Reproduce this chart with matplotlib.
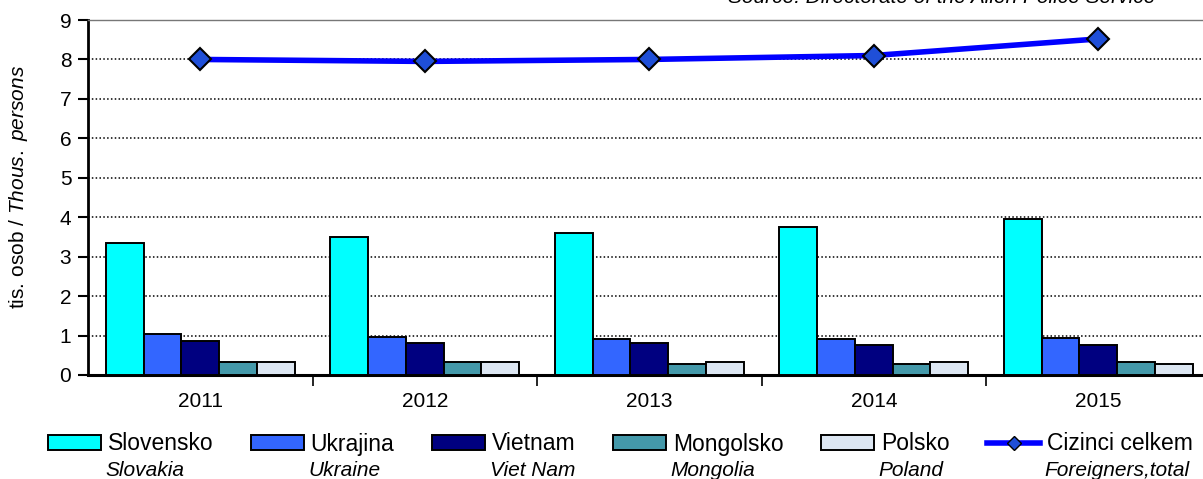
import numpy as np
import matplotlib.pyplot as plt
from matplotlib.lines import Line2D
from matplotlib.patches import Patch

plt.rcParams['font.family'] = ['Liberation Sans', 'DejaVu Sans']
plt.rcParams['mathtext.fontset'] = 'custom'
plt.rcParams['mathtext.rm'] = 'Liberation Sans'
plt.rcParams['mathtext.it'] = 'Liberation Sans:italic'

# data (thousands of persons)
years = ['2011', '2012', '2013', '2014', '2015']
slovensko = [3.34, 3.49, 3.59, 3.75, 3.95]
ukrajina = [1.05, 0.97, 0.91, 0.91, 0.95]
vietnam = [0.85, 0.80, 0.80, 0.75, 0.75]
mongolsko = [0.34, 0.34, 0.29, 0.29, 0.34]
polsko = [0.34, 0.34, 0.34, 0.34, 0.29]
celkem = [8.00, 7.95, 8.00, 8.10, 8.52]

series_cz = ['Slovensko', 'Ukrajina', 'Vietnam', 'Mongolsko', 'Polsko', 'Cizinci celkem']
series_en = ['Slovakia', 'Ukraine', 'Viet Nam', 'Mongolia', 'Poland', 'Foreigners,total']
bar_colors = ['#00FFFF', '#3366FF', '#000080', '#4499AA', '#DCE6F2']

W, H = 1203, 479
fig = plt.figure(figsize=(W / 100, H / 100), dpi=100)
ax = fig.add_axes([88 / W, 104 / H, 1122.5 / W, 355 / H])

x = np.arange(len(years))
bw = 0.168
for i, (vals, col) in enumerate(zip([slovensko, ukrajina, vietnam, mongolsko, polsko], bar_colors)):
    ax.bar(x + (i - 2) * bw, vals, bw, color=col, edgecolor='black', linewidth=1.4, zorder=3)

ax.plot(x, celkem, color='#0000FF', lw=4, marker='D', markersize=11,
        markerfacecolor='#1F4FD8', markeredgecolor='black', markeredgewidth=1.5, zorder=4)

ax.set_xlim(-0.5, 4.5)
ax.set_ylim(0, 9)
ax.set_yticks(range(10))
ax.tick_params(axis='y', labelsize=15, length=7, width=1.5, direction='out', pad=5)
ax.set_xticks(x)
ax.set_xticklabels(years, fontsize=15)
ax.tick_params(axis='x', length=0, pad=12)
ax.set_xticks(np.arange(0.5, 5, 1), minor=True)
ax.tick_params(axis='x', which='minor', length=8, width=1.2, direction='out')
ax.yaxis.grid(True, linestyle=(0, (1, 1.5)), color='black', lw=1.1, zorder=0)
ax.set_axisbelow(True)
ax.spines['left'].set_linewidth(2)
ax.spines['bottom'].set_linewidth(2.2)
ax.spines['top'].set_color('#777777')
ax.spines['top'].set_linewidth(1)
ax.spines['right'].set_visible(False)

ax.set_ylabel(r'tis. osob / $\it{Thous.\ persons}$', fontsize=15)
ax.yaxis.set_label_coords(-0.052, 0.53)

fig.text(1155 / W, 1 - 3 / H, 'Source: Directorate of the Alien Police Service',
         style='italic', fontsize=15, ha='right', va='baseline')

handles = [Patch(facecolor=c, edgecolor='black', linewidth=1.4) for c in bar_colors]
handles.append(Line2D([], [], color='#0000FF', lw=4, marker='D', markersize=7,
                      markerfacecolor='#1F4FD8', markeredgecolor='black'))
leg = fig.legend(handles, series_cz, loc='center left', bbox_to_anchor=(48 / W, 1 - 444 / H),
                 ncol=6, frameon=False, fontsize=16.5, handlelength=2.3, handleheight=0.58,
                 handletextpad=0.3, columnspacing=1.65, borderaxespad=0, borderpad=0)

fig.canvas.draw()
for t, eng in zip(leg.get_texts(), series_en):
    bb = t.get_window_extent()
    fig.text(bb.x0 / W - 2 / W, (bb.y0 + bb.y1) / 2 / H - 27 / H, eng, style='italic',
             fontsize=15, ha='left', va='center')

fig.savefig('out.png', dpi=100)
